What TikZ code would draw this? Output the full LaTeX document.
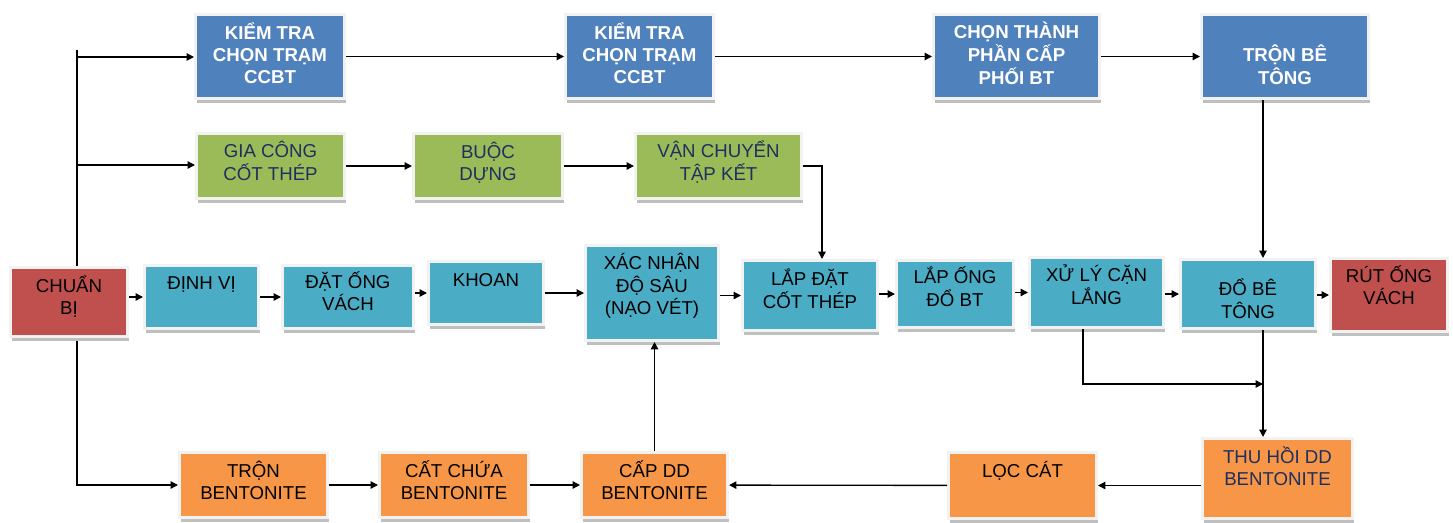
\documentclass[tikz,border=0pt]{standalone}
\usepackage{fontspec}
\setmainfont{Liberation Sans}
\usetikzlibrary{arrows.meta,shadows,backgrounds}
\definecolor{cblue}{HTML}{4F81BD}
\definecolor{cgreen}{HTML}{9BBB59}
\definecolor{ccyan}{HTML}{4BACC6}
\definecolor{cred}{HTML}{C0504D}
\definecolor{corange}{HTML}{F79646}
\definecolor{cframe}{HTML}{F2F2F2}
\definecolor{cnavy}{HTML}{1F2F5F}
\newdimen\pxu \pxu=0.75pt
\newcommand\bxt[2]{\raisebox{#1\pxu}[0pt][0pt]{\begin{tabular}[b]{@{}c@{}}#2\end{tabular}}}
\newcommand\mybox[7]{%
  \pgfmathsetmacro\cx{(#2+#4)/2}\pgfmathsetmacro\cy{(#3+#5)/2}%
  \pgfmathsetmacro\bw{(#4-#2+3)*0.75}\pgfmathsetmacro\bh{(#5-#3+3)*0.75}%
  \node[#6, minimum width=\bw pt, minimum height=\bh pt] (#1) at (\cx,\cy) {#7};}
\tikzset{
  box/.style={rectangle, draw=cframe, line width=2.25pt, inner sep=0pt,
    drop shadow={shadow xshift=1.2pt, shadow yshift=-3pt, fill=black!25, opacity=1},
    font=\fontsize{14}{16.5}\selectfont, text=black},
  bluebox/.style={box, fill=cblue, text=white, font=\fontsize{14}{16.5}\selectfont\bfseries},
  greenbox/.style={box, fill=cgreen, text=cnavy},
  cyanbox/.style={box, fill=ccyan},
  redbox/.style={box, fill=cred},
  orangebox/.style={box, fill=corange},
  arr/.style={draw=black, line width=1pt, -{Triangle[length=5.5pt,width=5.5pt]}},
}
\begin{document}
\begin{tikzpicture}[x=0.75pt,y=-0.75pt]
\useasboundingbox (0,0) rectangle (1453,522);
% top row
\mybox{K1}{197}{16}{343}{97}{bluebox}{\bxt{-27.3}{KIỂM TRA\\CHỌN TRẠM\\CCBT}}
\mybox{K2}{567}{16}{712}{97}{bluebox}{\bxt{-27.3}{KIỂM TRA\\CHỌN TRẠM\\CCBT}}
\mybox{CT}{935}{16}{1098}{97}{bluebox}{\bxt{-28.3}{CHỌN THÀNH\\PHẦN CẤP\\PHỐI BT}}
\mybox{TB}{1203}{16}{1367}{97}{bluebox}{\bxt{-28.3}{TRỘN BÊ\\TÔNG}}
% green row
\mybox{GC}{198}{135}{343}{197}{greenbox}{\bxt{-14.8}{GIA CÔNG\\CỐT THÉP}}
\mybox{BD}{415}{135}{561}{197}{greenbox}{\bxt{-14.8}{BUỘC\\DỰNG}}
\mybox{VC}{637}{135}{800}{197}{greenbox}{\bxt{-14.8}{VẬN CHUYỂN\\TẬP KẾT}}
% middle row
\mybox{CB}{12}{269}{126}{335}{redbox}{\bxt{-12.8}{CHUẨN\\BỊ}}
\mybox{DV}{146}{267}{257}{327}{cyanbox}{\bxt{7.2}{ĐỊNH VỊ}}
\mybox{DO}{284}{267}{412}{327}{cyanbox}{\bxt{-13.8}{ĐẶT ỐNG\\VÁCH}}
\mybox{KH}{430}{263}{542}{323}{cyanbox}{\bxt{6.2}{KHOAN}}
\mybox{XN}{587}{247}{717}{339}{cyanbox}{\bxt{-21.8}{XÁC NHẬN\\ĐỘ SÂU\\(NẠO VÉT)}}
\mybox{LD}{744}{262}{876}{329}{cyanbox}{\bxt{-13.3}{LẮP ĐẶT\\CỐT THÉP}}
\mybox{LO}{898}{262}{1012}{326}{cyanbox}{\bxt{-12.8}{LẮP ỐNG\\ĐỔ BT}}
\mybox{XL}{1031}{259}{1162}{326}{cyanbox}{\bxt{-12.3}{XỬ LÝ CẶN\\LẮNG}}
\mybox{DB}{1182}{261}{1314}{327}{cyanbox}{\bxt{-24.8}{ĐỔ BÊ\\TÔNG}}
\mybox{RO}{1332}{260}{1446}{330}{redbox}{\bxt{-9.8}{RÚT ỐNG\\VÁCH}}
% bottom row
\mybox{TBen}{181}{454}{326}{516}{orangebox}{\bxt{-14.8}{TRỘN\\BENTONITE}}
\mybox{CC}{381}{454}{527}{516}{orangebox}{\bxt{-14.8}{CẤT CHỨA\\BENTONITE}}
\mybox{CD}{583}{454}{726}{516}{orangebox}{\bxt{-14.8}{CẤP DD\\BENTONITE}}
\mybox{LC}{950}{454}{1095}{517}{orangebox}{\bxt{7.7}{LỌC CÁT}}
\mybox{TH}{1204}{440}{1351}{517}{orangebox}{\bxt{-7.3}{\color{cnavy}THU HỒI DD\\\color{cnavy}BENTONITE}}
% coordinates
\coordinate (tr) at (77,50);
\coordinate (j1) at (77,57);
\coordinate (j2) at (77,165);
\coordinate (vcx) at (822,166);
\coordinate (v1) at (1263,0);
\coordinate (v2) at (1083,384);
% connectors
\begin{pgfonlayer}{background}
\draw[arr] (tr) |- (TBen);
\end{pgfonlayer}
\draw[arr] (j1) -- (j1 -| K1.west);
\draw[arr] (j2) -- (j2 -| GC.west);
\draw[arr] (K1) -- (K2);
\draw[arr] (K2) -- (CT);
\draw[arr] (CT) -- (TB);
\draw[arr] (GC) -- (BD);
\draw[arr] (BD) -- (VC);
\draw[arr] (VC.east) -- (vcx) -- (vcx |- LD.north);
\draw[arr] (CB.east |- DV) -- (DV.west);
\draw[arr] (DV) -- (DO);
\draw[arr] (DO.east |- KH) -- (KH.west);
\draw[arr] (KH) -- (XN);
\draw[arr] (XN.east |- LD) -- (LD.west);
\draw[arr] (LD.east |- LO) -- (LO.west);
\draw[arr] (LO.east |- XL) -- (XL.west);
\draw[arr] (XL.east |- DB) -- (DB.west);
\draw[arr] (DB.east |- RO) -- (RO.west);
\draw[arr] (v1 |- TB.south) -- (v1 |- DB.north);
\draw[arr] (v2 |- XL.south) -- (v2) -- (v1 |- v2);
\draw[arr] (v1 |- DB.south) -- (v1 |- TH.north);
\draw[arr] (TH.west |- LC) -- (LC.east);
\draw[arr] (LC) -- (CD);
\draw[arr] (TBen) -- (CC);
\draw[arr] (CC) -- (CD);
\draw[arr] (CD.north) -- (CD.north |- XN.south);
\end{tikzpicture}
\end{document}
